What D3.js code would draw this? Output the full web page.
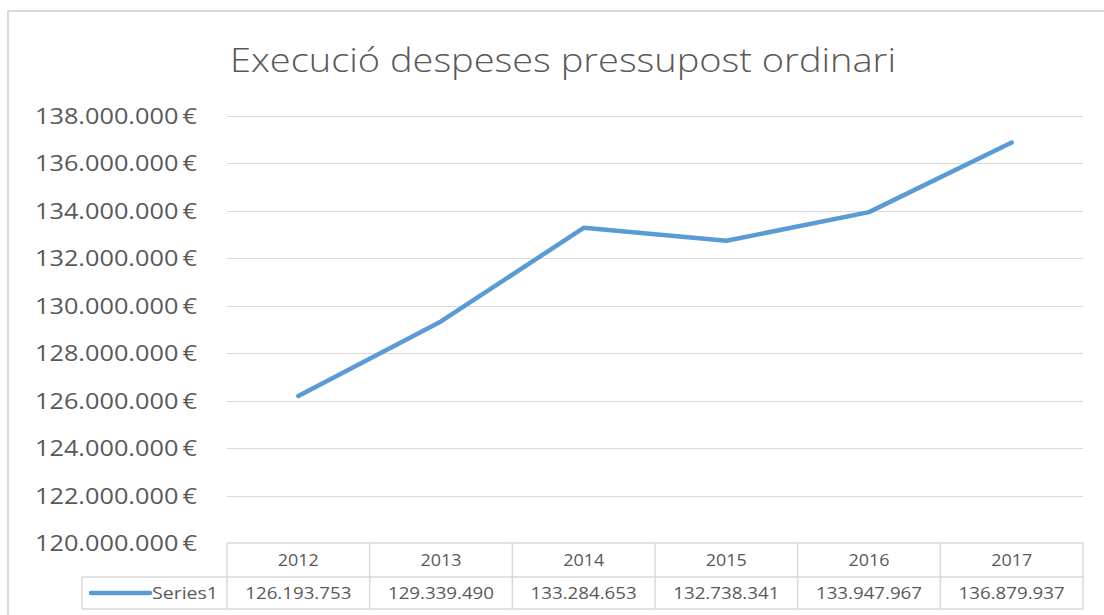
<!DOCTYPE html>
<html>
<head>
<meta charset="utf-8">
<script src="https://cdn.jsdelivr.net/npm/d3@7"></script>
<style>
  body { margin: 0; background: #fff; }
  text { font-family: "Open Sans", "Noto Sans", sans-serif; fill: #595959; }
</style>
</head>
<body>
<svg id="chart" width="1104" height="615"></svg>
<script>
// chart data
var years = ["2012", "2013", "2014", "2015", "2016", "2017"];
var values = [126193753, 129339490, 133284653, 132738341, 133947967, 136879937];
var yTicks = [120000000, 122000000, 124000000, 126000000, 128000000, 130000000, 132000000, 134000000, 136000000, 138000000];
var seriesName = "Series1";
var title = "Execució despeses pressupost ordinari";

var svg = d3.select("#chart");
var plot = { left: 227, right: 1083, top: 116, bottom: 543 };
var stretch = 1.12; // source text is wider than Open Sans

var fmtAxis = function(v) { return d3.format(",")(v).replace(/,/g, ".") + "\u2009€"; };
var fmtTable = function(v) { return d3.format(",")(v).replace(/,/g, "."); };

// stretch a text selection horizontally
function widen(sel, factor) {
  sel.each(function() {
    var w = this.getComputedTextLength();
    d3.select(this).attr("textLength", w * factor).attr("lengthAdjust", "spacingAndGlyphs");
  });
}

// outer frame
svg.append("rect")
  .attr("x", 8).attr("y", 11).attr("width", 1110).attr("height", 620)
  .attr("fill", "none").attr("stroke", "#d9d9d9").attr("stroke-width", 2);

var x = d3.scaleBand().domain(years).range([plot.left, plot.right]);
var y = d3.scaleLinear().domain([120000000, 138000000]).range([plot.bottom, plot.top]);

// gridlines
svg.append("g").selectAll("line").data(yTicks.slice(1)).enter().append("line")
  .attr("x1", plot.left).attr("x2", plot.right)
  .attr("y1", function(d) { return Math.round(y(d)) + 0.5; })
  .attr("y2", function(d) { return Math.round(y(d)) + 0.5; })
  .attr("stroke", "#d9d9d9").attr("stroke-width", 1);

// y axis labels
var yl = svg.append("g").selectAll("text").data(yTicks).enter().append("text")
  .attr("x", 197)
  .attr("y", function(d) { return y(d) + 8; })
  .attr("text-anchor", "end")
  .style("font-size", "22px")
  .text(fmtAxis);
widen(yl, 162 / yl.node().getComputedTextLength());

// title
var t = svg.append("text")
  .attr("x", 563).attr("y", 72)
  .attr("text-anchor", "middle")
  .style("font-size", "33px").style("font-weight", 300)
  .text(title);
widen(t, 666 / t.node().getComputedTextLength());

// line
var line = d3.line()
  .x(function(d, i) { return x(years[i]) + x.bandwidth() / 2; })
  .y(function(d) { return y(d); });

svg.append("path").datum(values)
  .attr("d", line)
  .attr("fill", "none").attr("stroke", "#5b9bd5")
  .attr("stroke-width", 4.5).attr("stroke-linecap", "round").attr("stroke-linejoin", "round");

// data table
var tbl = { top: 543, mid: 577, bottom: 609, legendLeft: 82 };
var grid = svg.append("g").attr("stroke", "#d9d9d9").attr("stroke-width", 1.5);
grid.append("line").attr("x1", plot.left).attr("x2", plot.right).attr("y1", tbl.top).attr("y2", tbl.top);
grid.append("line").attr("x1", tbl.legendLeft).attr("x2", plot.right).attr("y1", tbl.mid).attr("y2", tbl.mid);
grid.append("line").attr("x1", tbl.legendLeft).attr("x2", plot.right).attr("y1", tbl.bottom).attr("y2", tbl.bottom);
grid.append("line").attr("x1", tbl.legendLeft).attr("x2", tbl.legendLeft).attr("y1", tbl.mid).attr("y2", tbl.bottom);
grid.selectAll(".col").data(years).enter().append("line")
  .attr("x1", function(d) { return x(d); }).attr("x2", function(d) { return x(d); })
  .attr("y1", tbl.top).attr("y2", tbl.bottom);
grid.append("line").attr("x1", plot.right).attr("x2", plot.right).attr("y1", tbl.top).attr("y2", tbl.bottom);

var hdr = svg.append("g").selectAll("text").data(years).enter().append("text")
  .attr("x", function(d) { return x(d) + x.bandwidth() / 2; })
  .attr("y", tbl.top + 23)
  .attr("text-anchor", "middle")
  .style("font-size", "16px")
  .text(function(d) { return d; });
widen(hdr, stretch);

var cells = svg.append("g").selectAll("text").data(values).enter().append("text")
  .attr("x", function(d, i) { return x(years[i]) + x.bandwidth() / 2; })
  .attr("y", tbl.mid + 22)
  .attr("text-anchor", "middle")
  .style("font-size", "17px")
  .text(fmtTable);
widen(cells, 1.1);

// legend key
svg.append("line")
  .attr("x1", 91).attr("x2", 150).attr("y1", 593).attr("y2", 593)
  .attr("stroke", "#5b9bd5").attr("stroke-width", 4.5).attr("stroke-linecap", "round");
var lg = svg.append("text")
  .attr("x", 152).attr("y", tbl.mid + 22)
  .style("font-size", "16px")
  .text(seriesName);
widen(lg, 66 / lg.node().getComputedTextLength());
</script>
</body>
</html>
